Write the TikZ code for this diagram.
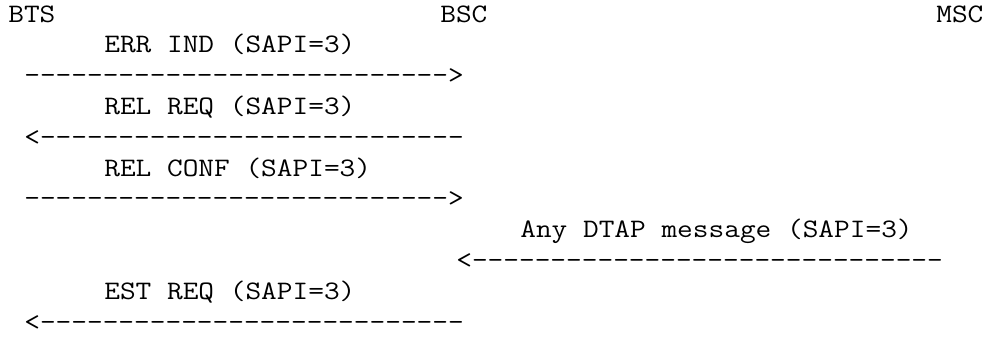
\documentclass[tikz,border=0pt]{standalone}
\usepackage{tikz}
\usetikzlibrary{positioning}

\begin{document}
\begin{tikzpicture}[x=12pt,y=-23.1pt,
  txt/.style={anchor=base west,inner sep=0pt,xscale=1.1429,font=\ttfamily\fontsize{20}{23}\selectfont}
]
  \useasboundingbox (-6pt,16.5pt) rectangle (733.5pt,-243.75pt);

  % entities
  \node[txt] (bts) at (0,0) {BTS};
  \node[txt] (bsc) at (27,0) {BSC};
  \node[txt] (msc) at (58,0) {MSC};

  % BTS <-> BSC
  \node[txt] (errind) at (6,1) {ERR IND (SAPI=3)};
  \node[txt] (errarr) at (1,2) {--------------------------->};
  \node[txt] (relreq) at (6,3) {REL REQ (SAPI=3)};
  \node[txt] (reqarr) at (1,4) {<---------------------------};
  \node[txt] (relconf) at (6,5) {REL CONF (SAPI=3)};
  \node[txt] (confarr) at (1,6) {--------------------------->};

  % MSC -> BSC
  \node[txt] (dtap) at (32,7) {Any DTAP message (SAPI=3)};
  \node[txt] (dtaparr) at (28,8) {<------------------------------};

  % BSC -> BTS
  \node[txt] (estreq) at (6,9) {EST REQ (SAPI=3)};
  \node[txt] (estarr) at (1,10) {<---------------------------};
\end{tikzpicture}
\end{document}
